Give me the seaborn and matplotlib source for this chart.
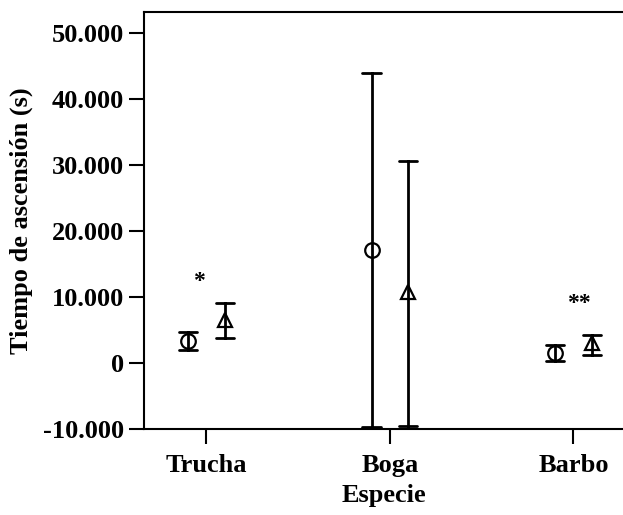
import pandas as pd
import matplotlib
matplotlib.use("Agg")
import matplotlib.pyplot as plt
import matplotlib.ticker as mticker
import seaborn as sns

# Values (mean and interval ends per species / group)
species = ["Trucha", "Boga", "Barbo"]
groups = ["A", "B"]
mean_a = [3300, 17100, 1500]
low_a = [2000, -9700, 300]
high_a = [4700, 43900, 2700]
mean_b = [6500, 10700, 3000]
low_b = [3800, -9500, 1200]
high_b = [9100, 30600, 4200]
signif = ["*", "", "**"]
signif_y = [12400, 0, 9000]


def build_frame():
    rows = []
    for i, sp in enumerate(species):
        for g, lo, mid, hi in [("A", low_a, mean_a, high_a), ("B", low_b, mean_b, high_b)]:
            for v in (lo[i], mid[i], hi[i]):
                rows.append({"Especie": sp, "grupo": g, "valor": v})
    return pd.DataFrame(rows)


def main():
    df = build_frame()
    sns.set_style("ticks", {"axes.edgecolor": "black", "text.color": "black",
                            "xtick.color": "black", "ytick.color": "black",
                            "axes.labelcolor": "black"})
    plt.rcParams["font.family"] = ["Liberation Serif", "DejaVu Serif"]
    plt.rcParams["font.weight"] = "bold"

    fig = plt.figure(figsize=(6.23, 5.15), dpi=100)
    ax = fig.add_axes([0.231, 0.167, 0.769, 0.810])

    # median of (low, mean, high) gives the mean, 100% interval gives low..high
    sns.pointplot(data=df, x="Especie", y="valor", hue="grupo", order=species,
                  hue_order=groups, estimator="median", errorbar=("pi", 100),
                  dodge=0.2, markers=["o", "^"], linestyle="none",
                  palette=["black", "black"], capsize=0.1, markersize=10.5,
                  err_kws={"linewidth": 2}, ax=ax, legend=False)
    for line in ax.lines:
        line.set_markerfacecolor("none")
        line.set_markeredgewidth(1.6)

    for i, s in enumerate(signif):
        if s:
            ax.text(i + (-0.04 if i == 0 else 0.03), signif_y[i], s, ha="center",
                    va="center", fontsize=17, fontweight="bold")

    ax.set_xlim(-0.34, 2.27)
    ax.set_ylim(-10000, 53200)
    ax.yaxis.set_major_locator(mticker.MultipleLocator(10000))
    ax.yaxis.set_major_formatter(mticker.FuncFormatter(lambda v, p: f"{int(v):,}".replace(",", ".")))

    ax.set_xlabel("Especie", fontsize=19, fontweight="bold", labelpad=5)
    ax.set_ylabel("Tiempo de ascensión (s)", fontsize=19, fontweight="bold", labelpad=7)
    ax.tick_params(axis="both", length=11, width=1.5, labelsize=19)
    ax.tick_params(axis="x", pad=7)
    for lab in ax.get_xticklabels() + ax.get_yticklabels():
        lab.set_fontweight("bold")
    ax.spines["right"].set_visible(False)
    for sp in ["left", "bottom", "top"]:
        ax.spines[sp].set_linewidth(1.5)

    plt.savefig("out.png", dpi=100)
    plt.close()


if __name__ == "__main__":
    main()
